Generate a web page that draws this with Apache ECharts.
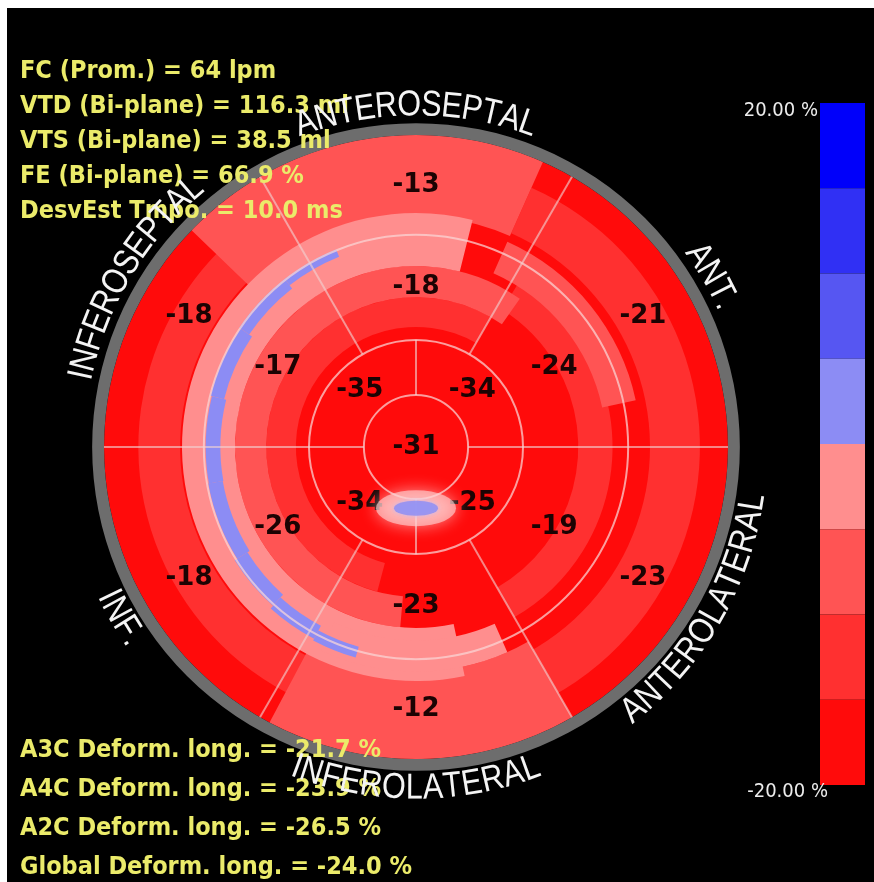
<!DOCTYPE html>
<html><head><meta charset="utf-8">
<script src="https://cdn.jsdelivr.net/npm/echarts@6/dist/echarts.min.js"></script>
<style>html,body{margin:0;padding:0;background:#fff;overflow:hidden}
#c{position:absolute;left:7px;top:8px;width:867px;height:874px;}</style>
</head><body><div id="c"></div>
<script>
// ---------------- data ----------------
const ringRadii = [16.7, 34.3, 68, 100];           // apex, apical, mid, basal outer (radius axis units)
const apexValue = [-31];
const apicalCenters = [45, 135, 225, 315];
const apicalValues = [-34, -35, -34, -25];
const segCenters = [30, 90, 150, 210, 270, 330];
const midValues = [-24, -18, -17, -26, -23, -19];
const basalValues = [-21, -13, -18, -18, -12, -23];
const spokes = [[16.7,100,0],[16.7,100,180],[16.7,34.3,90],[16.7,34.3,270],
                [34.3,100,60],[34.3,100,120],[34.3,100,240],[34.3,100,300]];
const rimBand = [[100, 103.8, 0, 360, 0]];
// estimated strain field patches: [r0, r1, a0, a1, strain %]
const strainField = [
  [0, 100, 0, 360, -22],
  [75.6, 89, 100, 262, -13],
  [75, 91, -70, 66, -13],
  [52, 63, -60, 58, -13],
  [38.5, 48, 60, 255, -13],
  [48, 58, 55, 265, -8],
  [61, 72, 12, 66, -8],
  [74, 100, 66, 136, -8],
  [72, 100, 242, 300, -8],
  [58, 75, 76, 282, -3],
  [62, 72, 245, 294, -3],
  [65.8, 68.3, 112, 128, 2],
  [64.5, 68.3, 128, 146, 2],
  [63.4, 67.9, 146, 166, 2],
  [62.7, 67.4, 166, 190, 2],
  [62.9, 67.6, 190, 212, 2],
  [63.7, 68.5, 212, 228, 2],
  [64.9, 69.6, 228, 242, 2],
  [66.6, 70.2, 242, 254, 2]
];
const apexSpot = [[19.6, 270]];
const wallLabels = ['ANT.', 'ANTEROSEPTAL', 'INFEROSEPTAL', 'INF.', 'INFEROLATERAL', 'ANTEROLATERAL'];
const wallAngles = [30, 90, 149, 210, 270, 330];
const statsTop = ['FC (Prom.) = 64 lpm', 'VTD (Bi-plane) = 116.3 ml', 'VTS (Bi-plane) = 38.5 ml',
                  'FE (Bi-plane) = 66.9 %', 'DesvEst Tmpo. = 10.0 ms'];
const statsBottom = ['A3C Deform. long. = -21.7 %', 'A4C Deform. long. = -23.9 %',
                     'A2C Deform. long. = -26.5 %', 'Global Deform. long. = -24.0 %'];
const binEdges = [-20, -15, -10, -5, 0, 5, 10, 15, 20];
const binColors = ['#ff0b0b', '#ff3030', '#ff5454', '#ff8e8e', '#8c8cf4', '#5656f2', '#3030f4', '#0000fa'];
const scaleTickLabels = ['20.00 %', '-20.00 %'];

// ---------------- chart ----------------
const OX = 7, OY = 8;
const chart = echarts.init(document.getElementById('c'), null, {renderer: 'canvas'});

function ringGeom(api, r0v, r1v, a0, a1) {
  const c = api.coord([0, 0]);
  const p0 = api.coord([r0v, a0]);
  const p1 = api.coord([r1v, a0]);
  const rr0 = Math.hypot(p0[0]-c[0], p0[1]-c[1]);
  const rr1 = Math.hypot(p1[0]-c[0], p1[1]-c[1]);
  const start = Math.atan2(p1[1]-c[1], p1[0]-c[0]);
  const span = (a1 - a0) * Math.PI / 180;
  return {cx: c[0], cy: c[1], r0: rr0, r: rr1, startAngle: start - span, endAngle: start, clockwise: true};
}

const pieces = binColors.map((col, i) => {
  if (i === 0) return {lt: binEdges[1], color: col};
  if (i === binColors.length - 1) return {gte: binEdges[i], color: col};
  return {gte: binEdges[i], lt: binEdges[i+1], color: col};
});

const numberLabels = [[0, 0, apexValue[0]]]
  .concat(apicalValues.map((v, i) => [(ringRadii[0]+ringRadii[1])/2, apicalCenters[i], v]))
  .concat(midValues.map((v, i) => [(ringRadii[1]+ringRadii[2])/2, segCenters[i], v]))
  .concat(basalValues.map((v, i) => [(ringRadii[2]+ringRadii[3])/2, segCenters[i], v]));

const option = {
  backgroundColor: '#000',
  animation: false,
  polar: {center: [416 - OX, 447 - OY], radius: 312},
  angleAxis: {type: 'value', min: 0, max: 360, startAngle: 0, clockwise: false, show: false},
  radiusAxis: {type: 'value', min: 0, max: 100, show: false},
  visualMap: {
    type: 'piecewise', seriesIndex: 0, dimension: 4, pieces: pieces,
    orient: 'vertical', left: 820 - OX, top: 103 - OY, padding: 0,
    itemWidth: 45, itemHeight: 85.25, itemGap: 0, itemSymbol: 'rect',
    showLabel: false, selectedMode: false, hoverLink: false
  },
  series: [
    {
      type: 'custom', coordinateSystem: 'polar', silent: true,
      dimensions: ['r0', 'r1', 'a0', 'a1', 'strain'],
      data: strainField,
      renderItem: (params, api) => ({
        type: 'sector',
        shape: ringGeom(api, api.value(0), api.value(1), api.value(2), api.value(3)),
        style: {fill: api.visual('color')}
      })
    },
    {
      type: 'custom', coordinateSystem: 'polar', silent: true,
      dimensions: ['r0', 'r1', 'a0', 'a1', 'v'],
      data: rimBand,
      renderItem: (params, api) => ({
        type: 'sector',
        shape: ringGeom(api, api.value(0), api.value(1), api.value(2), api.value(3)),
        style: {fill: '#6d6d6d'}
      })
    },
    {
      type: 'custom', coordinateSystem: 'polar', silent: true,
      data: ringRadii.slice(0, 3).map(r => [r, 0]),
      renderItem: (params, api) => {
        const c = api.coord([0, 0]); const p = api.coord([api.value(0), 0]);
        return {type: 'circle', shape: {cx: c[0], cy: c[1], r: Math.hypot(p[0]-c[0], p[1]-c[1])},
                style: {fill: 'none', stroke: 'rgba(250,215,215,0.72)', lineWidth: 2}};
      }
    },
    {
      type: 'custom', coordinateSystem: 'polar', silent: true,
      dimensions: ['r0', 'r1', 'a'],
      data: spokes,
      renderItem: (params, api) => {
        const p0 = api.coord([api.value(0), api.value(2)]);
        const p1 = api.coord([api.value(1), api.value(2)]);
        return {type: 'line', shape: {x1: p0[0], y1: p0[1], x2: p1[0], y2: p1[1]},
                style: {stroke: 'rgba(240,210,210,0.62)', lineWidth: 2}};
      }
    },
    {
      type: 'scatter', coordinateSystem: 'polar', silent: true, data: apexSpot,
      symbol: 'circle', symbolSize: [80, 36],
      itemStyle: {color: 'rgba(255,210,210,0.8)', shadowBlur: 16, shadowColor: 'rgba(255,225,225,0.95)'}
    },
    {
      type: 'scatter', coordinateSystem: 'polar', silent: true, data: apexSpot,
      symbol: 'circle', symbolSize: [44, 15],
      itemStyle: {color: '#8c8cf2', shadowBlur: 4, shadowColor: '#b8b8ff'}
    },
    {
      type: 'custom', coordinateSystem: 'polar', silent: true,
      dimensions: ['r', 'a', 'v'],
      data: numberLabels,
      renderItem: (params, api) => {
        const p = api.coord([api.value(0), api.value(1)]);
        return {type: 'text', x: p[0], y: p[1],
                style: {text: String(api.value(2)), fill: '#1c0303', fontSize: 26, fontWeight: 'bold',
                        fontFamily: '"DejaVu Sans", sans-serif', align: 'center', verticalAlign: 'middle'}};
      }
    }
  ]
};
chart.setOption(option);

// ---------------- texts ----------------
const graphics = [];
const statFont = '"DejaVu Sans Condensed", "Liberation Sans", sans-serif';
statsTop.forEach((t, i) => graphics.push({
  type: 'text', x: 20 - OX, y: 71 - OY + 35 * i, z: 200, silent: true,
  style: {text: t, fill: '#ebeb6a', fontSize: 25, fontWeight: 'bold', fontFamily: statFont, align: 'left', verticalAlign: 'middle'}
}));
statsBottom.forEach((t, i) => graphics.push({
  type: 'text', x: 20 - OX, y: 750 - OY + 39 * i, z: 200, silent: true,
  style: {text: t, fill: '#ebeb6a', fontSize: 25, fontWeight: 'bold', fontFamily: statFont, align: 'left', verticalAlign: 'middle'}
}));
graphics.push({type: 'text', x: 818 - OX, y: 111 - OY, z: 200, silent: true,
  style: {text: scaleTickLabels[0], fill: '#ececec', fontSize: 20, fontFamily: statFont, align: 'right', verticalAlign: 'middle'}});
graphics.push({type: 'text', x: 828 - OX, y: 792 - OY, z: 200, silent: true,
  style: {text: scaleTickLabels[1], fill: '#ececec', fontSize: 20, fontFamily: statFont, align: 'right', verticalAlign: 'middle'}});

const wallFontFamily = '"Liberation Sans", Arial, sans-serif';
const wallFontSize = 36;
const narrow = 0.85;
const mctx = document.createElement('canvas').getContext('2d');
mctx.font = wallFontSize + 'px ' + wallFontFamily;
const labelRadius = 109.5;
const finder = {seriesIndex: 0};
const cpix = chart.convertToPixel(finder, [0, 0]);
wallLabels.forEach((label, k) => {
  const ang = wallAngles[k];
  const top = Math.sin(ang * Math.PI / 180) > 0;
  const chars = Array.from(label);
  const ws = chars.map(ch => mctx.measureText(ch).width * narrow);
  const W = ws.reduce((a, b) => a + b, 0);
  const p = chart.convertToPixel(finder, [labelRadius, ang]);
  const Rpx = Math.hypot(p[0] - cpix[0], p[1] - cpix[1]);
  let s = 0;
  chars.forEach((ch, i) => {
    const off = s + ws[i] / 2; s += ws[i];
    const dDeg = (off - W / 2) / Rpx * 180 / Math.PI;
    const th = top ? ang - dDeg : ang + dDeg;
    const q = chart.convertToPixel(finder, [labelRadius, th]);
    const rot = (th - (top ? 90 : 270)) * Math.PI / 180;
    graphics.push({type: 'text', x: q[0], y: q[1], rotation: rot, scaleX: narrow, z: 210, silent: true,
      style: {text: ch, fill: '#f4f4f4', fontSize: wallFontSize, fontFamily: wallFontFamily,
              align: 'center', verticalAlign: 'middle'}});
  });
});
chart.setOption({graphic: graphics});
</script>
</body></html>
